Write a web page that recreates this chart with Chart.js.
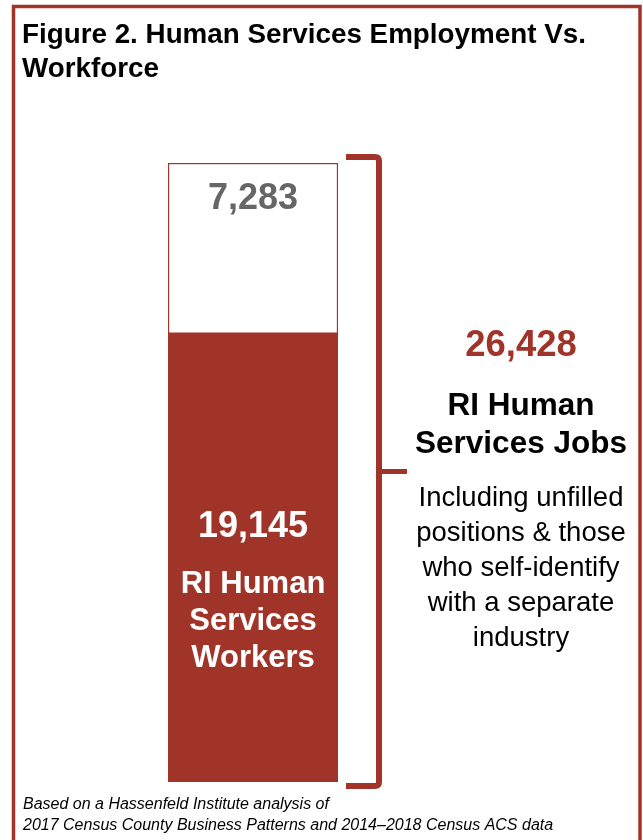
<!DOCTYPE html>
<html lang="en">
<head>
<meta charset="UTF-8">
<title>Human Services Employment Vs. Workforce</title>
<script src="https://cdn.jsdelivr.net/npm/chart.js"></script>
<style>
  html, body { margin: 0; padding: 0; background: #fff; }
  #wrap { width: 643px; height: 840px; position: relative; }
</style>
</head>
<body>
<div id="wrap"><canvas id="hsChart" width="643" height="840"></canvas></div>
<script>
// Data
const categories = ['RI Human Services'];
const workers = [19145];   // filled by RI human services workers
const unfilled = [7283];   // unfilled / self-identified elsewhere
const totalJobs = [26428];

const titleLines = ['Figure 2. Human Services Employment Vs.', 'Workforce'];
const workerLines = ['RI Human', 'Services', 'Workers'];
const jobLines = ['RI Human', 'Services Jobs'];
const noteLines = ['Including unfilled', 'positions & those', 'who self-identify', 'with a separate', 'industry'];
const sourceLines = ['Based on a Hassenfeld Institute analysis of', '2017 Census County Business Patterns and 2014\u20132018 Census ACS data'];

const RED = '#a03428';
const FONT = '"Liberation Sans", Arial, sans-serif';

const fmt = v => v.toLocaleString('en-US');

// frame, title, bracket, labels
const annotatePlugin = {
    id: 'annotatePlugin',
    afterDraw: (chart) => {
        const ctx = chart.ctx;
        const y = chart.scales.y;
        const red = chart.getDatasetMeta(0).data[0];
        const white = chart.getDatasetMeta(1).data[0];
        const cx = red.x;
        ctx.save();

        // outer frame
        ctx.strokeStyle = RED;
        ctx.lineWidth = 3.5;
        ctx.beginPath();
        ctx.moveTo(13.5, 860);
        ctx.lineTo(13.5, 6.5);
        ctx.lineTo(640, 6.5);
        ctx.lineTo(640, 860);
        ctx.stroke();

        // title
        ctx.fillStyle = '#000';
        ctx.textAlign = 'left';
        ctx.textBaseline = 'alphabetic';
        ctx.font = 'bold 27.8px ' + FONT;
        ctx.fillText(titleLines[0], 22, 43);
        ctx.fillText(titleLines[1], 22, 77);

        // value on the white part
        ctx.textAlign = 'center';
        ctx.textBaseline = 'middle';
        ctx.fillStyle = '#666666';
        ctx.font = 'bold 36px ' + FONT;
        ctx.fillText(fmt(unfilled[0]), cx, white.y + 36);

        // labels inside the red part
        ctx.fillStyle = '#fff';
        ctx.font = 'bold 36px ' + FONT;
        ctx.fillText(fmt(workers[0]), cx, red.y + 193);
        ctx.font = 'bold 31px ' + FONT;
        workerLines.forEach((t, i) => ctx.fillText(t, cx, red.y + 251 + i * 37));

        // bracket
        const top = y.getPixelForValue(totalJobs[0]) - 6;
        const bot = y.getPixelForValue(0) + 4;
        const bx = 379;
        ctx.strokeStyle = RED;
        ctx.lineWidth = 6;
        ctx.lineJoin = 'round';
        ctx.beginPath();
        ctx.moveTo(346, top);
        ctx.lineTo(bx - 4, top);
        ctx.quadraticCurveTo(bx, top, bx, top + 4);
        ctx.lineTo(bx, bot - 4);
        ctx.quadraticCurveTo(bx, bot, bx - 4, bot);
        ctx.lineTo(346, bot);
        ctx.stroke();
        const mid = (top + bot) / 2;
        ctx.lineWidth = 5;
        ctx.beginPath();
        ctx.moveTo(bx, mid);
        ctx.lineTo(407, mid);
        ctx.stroke();

        // right-hand text
        const rx = 521;
        ctx.fillStyle = RED;
        ctx.font = 'bold 36.5px ' + FONT;
        ctx.fillText(fmt(totalJobs[0]), rx, 346);
        ctx.fillStyle = '#000';
        ctx.font = 'bold 31.5px ' + FONT;
        jobLines.forEach((t, i) => ctx.fillText(t, rx, 406 + i * 38));
        ctx.font = '27.5px ' + FONT;
        noteLines.forEach((t, i) => ctx.fillText(t, rx, 498 + i * 35));

        // source note
        ctx.textAlign = 'left';
        ctx.font = 'italic 16px ' + FONT;
        sourceLines.forEach((t, i) => ctx.fillText(t, 23, 805 + i * 21));
        ctx.restore();
    }
};

const ctx = document.getElementById('hsChart').getContext('2d');
new Chart(ctx, {
    type: 'bar',
    data: {
        labels: categories,
        datasets: [{
            label: 'RI Human Services Workers',
            data: workers,
            backgroundColor: RED,
            borderWidth: 0
        }, {
            label: 'Unfilled / other industry',
            data: unfilled,
            backgroundColor: '#ffffff',
            borderColor: RED,
            borderWidth: 1.5,
            borderSkipped: false
        }]
    },
    options: {
        responsive: false,
        animation: false,
        maintainAspectRatio: false,
        layout: { padding: { left: 168, right: 305, top: 163, bottom: 58 } },
        datasets: { bar: { barPercentage: 1, categoryPercentage: 1 } },
        scales: {
            x: { stacked: true, display: false },
            y: { stacked: true, display: false, min: 0, max: totalJobs[0] }
        },
        plugins: {
            legend: { display: false },
            tooltip: { enabled: false },
            title: { display: false }
        }
    },
    plugins: [annotatePlugin]
});
</script>
</body>
</html>
